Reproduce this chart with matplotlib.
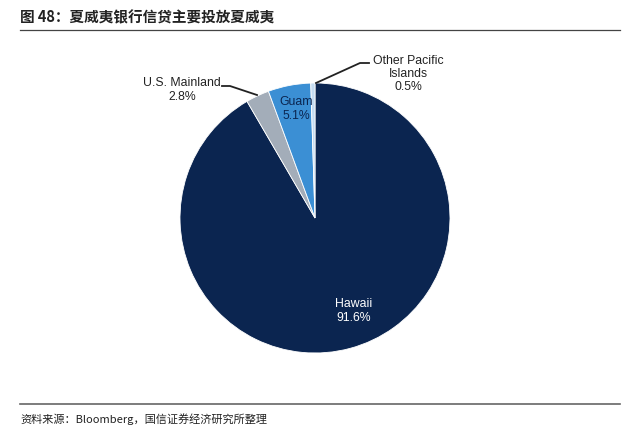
import matplotlib
matplotlib.use("Agg")
import matplotlib.pyplot as plt
from matplotlib.lines import Line2D

plt.rcParams["font.family"] = ["Liberation Sans", "DejaVu Sans"]

# data
regions = ["Hawaii", "U.S. Mainland", "Guam", "Other Pacific\nIslands"]
shares = [91.6, 2.8, 5.1, 0.5]
colors = ["#0b2550", "#a3adb9", "#3b8fd4", "#c4dcf2"]

W, H = 640, 440
fig = plt.figure(figsize=(W / 100, H / 100), dpi=100)

# pie centre / radius in pixels
cx, cy, r = 315, 218, 135
ax = fig.add_axes([(cx - r) / W, (H - cy - r) / H, 2 * r / W, 2 * r / H])
ax.pie(shares, colors=colors, startangle=90, counterclock=False,
       wedgeprops=dict(linewidth=0.6, edgecolor="white"))
ax.set_xlim(-1, 1)
ax.set_ylim(-1, 1)
ax.set_aspect("equal")
ax.axis("off")


def d(px, py):
    return ((px - cx) / r, (cy - py) / r)


lab = [f"{n}\n{v}%" for n, v in zip(regions, shares)]
fs = 8.8
ax.text(*d(354, 311), lab[0], color="white", ha="center", va="center",
        fontsize=fs, linespacing=1.15)
ax.text(*d(296, 109), lab[2], color="#0b2550", ha="center", va="center",
        fontsize=fs, linespacing=1.15)
ax.text(*d(182, 90), lab[1], color="#222222", ha="center", va="center",
        fontsize=fs, linespacing=1.15, clip_on=False)
ax.text(*d(408, 74), lab[3], color="#222222", ha="center", va="center",
        fontsize=fs, linespacing=1.15, clip_on=False)

# leader lines
p = [d(222, 86), d(230, 86), d(257, 95)]
ax.plot([q[0] for q in p], [q[1] for q in p], color="#222222", lw=1.3, clip_on=False)
p = [d(369, 63), d(360, 63), d(316, 83)]
ax.plot([q[0] for q in p], [q[1] for q in p], color="#222222", lw=1.3, clip_on=False)

cjk = ["Noto Sans CJK SC", "DejaVu Sans"]
fig.text(20 / W, 1 - 17 / H, "图 48：夏威夷银行信贷主要投放夏威夷", family=cjk,
         fontsize=10.5, fontweight="bold", va="center", ha="left", color="#222222")
fig.add_artist(Line2D([20 / W, 620 / W], [1 - 30 / H, 1 - 30 / H],
                      color="#444444", lw=0.9))
fig.add_artist(Line2D([20 / W, 620 / W], [1 - 404 / H, 1 - 404 / H],
                      color="#666666", lw=1.2))
fig.text(20 / W, 1 - 419 / H, "资料来源：Bloomberg，国信证券经济研究所整理", family=cjk,
         fontsize=8, va="center", ha="left", color="#222222")

fig.savefig("out.png", dpi=100)
